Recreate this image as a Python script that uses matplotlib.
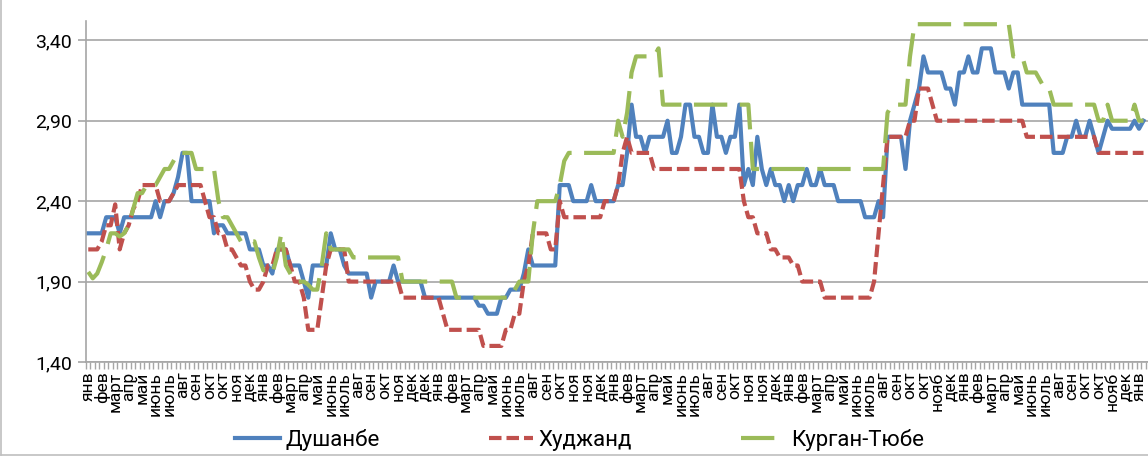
import numpy as np
import matplotlib
matplotlib.use('Agg')
import matplotlib.pyplot as plt
from matplotlib.lines import Line2D

plt.rcParams['font.family'] = ['Roboto', 'DejaVu Sans']

# ------------------------------
# Data (weekly prices)
# ------------------------------
series_names = ['Душанбе', 'Худжанд', 'Курган-Тюбе']

dushanbe = [
    2.20, 2.20, 2.20, 2.20, 2.30, 2.30, 2.30, 2.20, 2.30, 2.30,
    2.30, 2.30, 2.30, 2.30, 2.30, 2.40, 2.30, 2.40, 2.40, 2.45,
    2.55, 2.70, 2.70, 2.40, 2.40, 2.40, 2.40, 2.40, 2.20, 2.25,
    2.25, 2.20, 2.20, 2.20, 2.20, 2.20, 2.10, 2.10, 2.10, 2.00,
    2.00, 1.95, 2.10, 2.10, 2.10, 2.00, 2.00, 2.00, 1.90, 1.80,
    2.00, 2.00, 2.00, 2.00, 2.20, 2.10, 2.10, 2.00, 1.95, 1.95,
    1.95, 1.95, 1.95, 1.80, 1.90, 1.90, 1.90, 1.90, 2.00, 1.90,
    1.90, 1.90, 1.90, 1.90, 1.90, 1.80, 1.80, 1.80, 1.80, 1.80,
    1.80, 1.80, 1.80, 1.80, 1.80, 1.80, 1.80, 1.75, 1.75, 1.70,
    1.70, 1.70, 1.80, 1.80, 1.85, 1.85, 1.85, 1.95, 2.10, 2.00,
    2.00, 2.00, 2.00, 2.00, 2.00, 2.50, 2.50, 2.50, 2.40, 2.40,
    2.40, 2.40, 2.50, 2.40, 2.40, 2.40, 2.40, 2.40, 2.50, 2.50,
    2.70, 3.00, 2.80, 2.80, 2.70, 2.80, 2.80, 2.80, 2.80, 2.90,
    2.70, 2.70, 2.80, 3.00, 3.00, 2.80, 2.80, 2.70, 2.70, 3.00,
    2.80, 2.80, 2.70, 2.80, 2.80, 3.00, 2.50, 2.60, 2.50, 2.80,
    2.60, 2.50, 2.60, 2.50, 2.50, 2.40, 2.50, 2.40, 2.50, 2.50,
    2.60, 2.50, 2.50, 2.60, 2.50, 2.50, 2.50, 2.40, 2.40, 2.40,
    2.40, 2.40, 2.40, 2.30, 2.30, 2.30, 2.40, 2.30, 2.80, 2.80,
    2.80, 2.80, 2.60, 2.90, 3.00, 3.10, 3.30, 3.20, 3.20, 3.20,
    3.20, 3.10, 3.10, 3.00, 3.20, 3.20, 3.30, 3.20, 3.20, 3.35,
    3.35, 3.35, 3.20, 3.20, 3.20, 3.10, 3.20, 3.20, 3.00, 3.00,
    3.00, 3.00, 3.00, 3.00, 3.00, 2.70, 2.70, 2.70, 2.80, 2.80,
    2.90, 2.80, 2.80, 2.90, 2.80, 2.70, 2.80, 2.90, 2.85, 2.85,
    2.85, 2.85, 2.85, 2.90, 2.85, 2.90,
]

khujand = [
    2.10, 2.10, 2.10, 2.15, 2.25, 2.25, 2.38, 2.10, 2.20, 2.25,
    2.35, 2.40, 2.50, 2.50, 2.50, 2.50, 2.40, 2.40, 2.40, 2.45,
    2.50, 2.50, 2.50, 2.50, 2.50, 2.50, 2.40, 2.30, 2.30, 2.20,
    2.20, 2.10, 2.10, 2.05, 2.00, 2.00, 1.90, 1.85, 1.85, 1.90,
    2.00, 2.00, 2.10, 2.10, 2.10, 2.00, 1.90, 1.90, 1.80, 1.60,
    1.60, 1.60, 1.80, 2.00, 2.10, 2.10, 2.10, 2.10, 1.90, 1.90,
    1.90, 1.90, 1.90, 1.90, 1.90, 1.90, 1.90, 1.90, 1.90, 1.90,
    1.80, 1.80, 1.80, 1.80, 1.80, 1.80, 1.80, 1.80, 1.80, 1.70,
    1.60, 1.60, 1.60, 1.60, 1.60, 1.60, 1.60, 1.60, 1.50, 1.50,
    1.50, 1.50, 1.50, 1.60, 1.60, 1.70, 1.70, 1.90, 2.00, 2.20,
    2.20, 2.20, 2.20, 2.10, 2.10, 2.40, 2.30, 2.30, 2.30, 2.30,
    2.30, 2.30, 2.30, 2.30, 2.30, 2.40, 2.40, 2.40, 2.50, 2.70,
    2.80, 2.70, 2.70, 2.70, 2.70, 2.70, 2.60, 2.60, 2.60, 2.60,
    2.60, 2.60, 2.60, 2.60, 2.60, 2.60, 2.60, 2.60, 2.60, 2.60,
    2.60, 2.60, 2.60, 2.60, 2.60, 2.60, 2.40, 2.30, 2.30, 2.20,
    2.20, 2.20, 2.10, 2.10, 2.05, 2.05, 2.05, 2.00, 2.00, 1.90,
    1.90, 1.90, 1.90, 1.90, 1.80, 1.80, 1.80, 1.80, 1.80, 1.80,
    1.80, 1.80, 1.80, 1.80, 1.80, 1.90, 2.20, 2.50, 2.80, 2.80,
    2.80, 2.80, 2.80, 2.90, 2.90, 3.10, 3.10, 3.10, 3.00, 2.90,
    2.90, 2.90, 2.90, 2.90, 2.90, 2.90, 2.90, 2.90, 2.90, 2.90,
    2.90, 2.90, 2.90, 2.90, 2.90, 2.90, 2.90, 2.90, 2.90, 2.80,
    2.80, 2.80, 2.80, 2.80, 2.80, 2.80, 2.80, 2.80, 2.80, 2.80,
    2.80, 2.80, 2.80, 2.80, 2.80, 2.70, 2.70, 2.70, 2.70, 2.70,
    2.70, 2.70, 2.70, 2.70, 2.70, 2.70,
]

kurgan_tyube = [
    1.96, 1.92, 1.95, 2.02, 2.10, 2.20, 2.20, 2.18, 2.20, 2.25,
    2.35, 2.45, 2.45, 2.50, 2.50, 2.50, 2.55, 2.60, 2.60, 2.65,
    2.70, 2.70, 2.70, 2.70, 2.60, 2.60, 2.60, 2.60, 2.60, 2.40,
    2.30, 2.30, 2.25, 2.20, 2.15, 2.15, 2.15, 2.15, 2.05, 1.97,
    1.97, 1.95, 2.05, 2.20, 2.00, 1.95, 1.90, 1.90, 1.90, 1.88,
    1.85, 1.85, 2.00, 2.20, 2.10, 2.10, 2.10, 2.10, 2.10, 2.05,
    2.05, 2.05, 2.05, 2.05, 2.05, 2.05, 2.05, 2.05, 2.05, 2.05,
    1.90, 1.90, 1.90, 1.90, 1.90, 1.90, 1.90, 1.90, 1.90, 1.90,
    1.90, 1.90, 1.80, 1.80, 1.80, 1.80, 1.80, 1.80, 1.80, 1.80,
    1.80, 1.80, 1.80, 1.80, 1.80, 1.85, 1.90, 1.90, 1.90, 2.20,
    2.40, 2.40, 2.40, 2.40, 2.40, 2.50, 2.65, 2.70, 2.70, 2.70,
    2.70, 2.70, 2.70, 2.70, 2.70, 2.70, 2.70, 2.70, 2.90, 2.80,
    2.95, 3.20, 3.30, 3.30, 3.30, 3.30, 3.30, 3.35, 3.00, 3.00,
    3.00, 3.00, 3.00, 3.00, 3.00, 3.00, 3.00, 3.00, 3.00, 3.00,
    3.00, 3.00, 3.00, 3.00, 3.00, 3.00, 3.00, 3.00, 2.60, 2.60,
    2.60, 2.60, 2.60, 2.60, 2.60, 2.60, 2.60, 2.60, 2.60, 2.60,
    2.60, 2.60, 2.60, 2.60, 2.60, 2.60, 2.60, 2.60, 2.60, 2.60,
    2.60, 2.60, 2.60, 2.60, 2.60, 2.60, 2.60, 2.60, 2.95, 3.00,
    3.00, 3.00, 3.00, 3.30, 3.50, 3.50, 3.50, 3.50, 3.50, 3.50,
    3.50, 3.50, 3.50, 3.50, 3.50, 3.50, 3.50, 3.50, 3.50, 3.50,
    3.50, 3.50, 3.50, 3.50, 3.50, 3.50, 3.30, 3.30, 3.30, 3.20,
    3.20, 3.20, 3.15, 3.10, 3.10, 3.00, 3.00, 3.00, 3.00, 3.00,
    3.00, 3.00, 3.00, 3.00, 3.00, 2.90, 2.90, 3.00, 2.90, 2.90,
    2.90, 2.90, 2.90, 3.00, 2.90, 2.90,
]

# month labels shown under every third week
x_labels = [
    'янв', 'фев', 'март', 'апр', 'май', 'июнь', 'июль', 'авг', 'сен', 'окт', 'окт', 'ноя', 'дек',
    'янв', 'фев', 'март', 'апр', 'май', 'июнь', 'июль', 'авг', 'сен', 'окт', 'ноя', 'дек', 'дек',
    'янв', 'фев', 'март', 'апр', 'май', 'июнь', 'июль', 'авг', 'сен', 'окт', 'ноя', 'ноя',
    'дек', 'янв', 'фев', 'март', 'апр', 'май', 'июнь', 'июль', 'авг', 'сен', 'окт', 'ноя', 'ноя',
    'дек', 'янв', 'фев', 'март', 'апр', 'май', 'июнь', 'июль', 'авг', 'сен', 'окт', 'окт', 'нояб',
    'дек', 'янв', 'фев', 'март', 'апр', 'май', 'июнь', 'июль', 'авг', 'сен', 'окт', 'окт', 'нояб',
    'дек', 'янв',
]
label_step = 3

y_ticks = [1.40, 1.90, 2.40, 2.90, 3.40]

assert len(dushanbe) == len(khujand) == len(kurgan_tyube)

# ------------------------------
# Figure
# ------------------------------
W, H = 1148, 457
fig = plt.figure(figsize=(W / 100, H / 100), dpi=100)
left, right, top, bottom = 86, 1148, 21, 362
ax = fig.add_axes([left / W, 1 - bottom / H, (right - left) / W, (bottom - top) / H])

x = np.arange(len(dushanbe))
lw = 3.0
ax.plot(x, dushanbe, color='#4F81BD', lw=lw, solid_joinstyle='round',
        label=series_names[0])
ax.plot(x, khujand, color='#C0504D', lw=lw, dashes=(3, 1.2),
        label=series_names[1])
ax.plot(x, kurgan_tyube, color='#9BBB59', lw=lw, dashes=(8, 3),
        label=series_names[2])

ax.set_xlim(-0.5, 236.0)
ax.set_ylim(1.40, 3.52)

ax.set_yticks(y_ticks)
ax.set_yticklabels([f'{v:.2f}'.replace('.', ',') for v in y_ticks])
ax.yaxis.grid(True, color='#a6a6a6', lw=1.2)
ax.set_axisbelow(True)

ax.set_xticks(np.arange(0, label_step * len(x_labels), label_step))
ax.set_xticklabels(x_labels, rotation=90, fontsize=12.5, va='top', ha='center')
ax.set_xticks(np.arange(-0.5, len(x) + 0.5, 1), minor=True)
ax.tick_params(axis='x', which='major', length=0, pad=7)
ax.tick_params(axis='x', which='minor', length=5, color='#a6a6a6', width=1)
ax.tick_params(axis='y', length=6, color='#a6a6a6', width=1.2, labelsize=14, pad=4)

for side in ('top', 'right'):
    ax.spines[side].set_visible(False)
for side in ('left', 'bottom'):
    ax.spines[side].set_color('#a6a6a6')
    ax.spines[side].set_linewidth(1.2)

fig.legend(loc='center', bbox_to_anchor=(0.505, 0.037), ncol=3, frameon=False,
           fontsize=16, handlelength=2.0, columnspacing=4.9, handletextpad=0.25)

# chart area border
fig.add_artist(Line2D([0.001, 0.001], [0.004, 1.0], color='#bfbfbf', lw=1.2))
fig.add_artist(Line2D([0.001, 1.0], [0.004, 0.004], color='#bfbfbf', lw=1.2))

fig.savefig('out.png', dpi=100)
